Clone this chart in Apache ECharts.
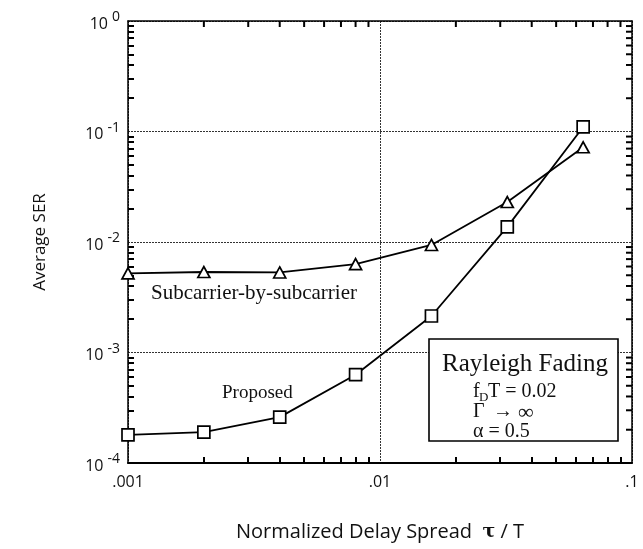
<!DOCTYPE html>
<html><head><meta charset="utf-8">
<script src="https://cdn.jsdelivr.net/npm/echarts@6/dist/echarts.min.js"></script>
<style>html,body{margin:0;padding:0;background:#fff}#c{width:643px;height:549px}</style>
</head><body><div id="c"></div>
<script>
// ---- data ----
const delaySpread   = [0.001, 0.002, 0.004, 0.008, 0.016, 0.032, 0.064];
const proposedSER   = [1.8e-4, 1.9e-4, 2.6e-4, 6.3e-4, 2.14e-3, 1.37e-2, 0.11];
const subcarrierSER = [5.2e-3, 5.35e-3, 5.3e-3, 6.3e-3, 9.4e-3, 2.3e-2, 0.072];
const xTickLabels = {'-3': '.001', '-2': '.01', '-1': '.1'};
const yTickExponents = {'0': '0', '-1': '-1', '-2': '-2', '-3': '-3', '-4': '-4'};
const xTitle = 'Normalized Delay Spread';
const yTitle = 'Average SER';
const seriesNames = ['Proposed', 'Subcarrier-by-subcarrier'];

const X_MIN = 0.001, X_MAX = 0.1, Y_MIN = 1e-4, Y_MAX = 1;
const SANS = 'Open Sans', SERIF = 'Liberation Serif';

// minor tick positions (2..9 x 10^k)
const xMinorTicks = [0.002, 0.003, 0.004, 0.005, 0.006, 0.007, 0.008, 0.009,
                     0.02, 0.03, 0.04, 0.05, 0.06, 0.07, 0.08, 0.09];
const yMinorTicks = [0.0002, 0.0003, 0.0004, 0.0005, 0.0006, 0.0007, 0.0008, 0.0009,
                     0.002, 0.003, 0.004, 0.005, 0.006, 0.007, 0.008, 0.009,
                     0.02, 0.03, 0.04, 0.05, 0.06, 0.07, 0.08, 0.09,
                     0.2, 0.3, 0.4, 0.5, 0.6, 0.7, 0.8, 0.9];

const chart = echarts.init(document.getElementById('c'), null, {renderer: 'canvas'});

const tickCfg = vals => ({show: true, inside: true, length: 6, customValues: vals, lineStyle: {color: '#000', width: 2}});
const gridLine = {show: true, lineStyle: {color: '#333', type: [2, 1], width: 1}};
const logX = extra => Object.assign({type: 'log', min: X_MIN, max: X_MAX}, extra);
const logY = extra => Object.assign({type: 'log', min: Y_MIN, max: Y_MAX}, extra);

const option = {
  animation: false,
  grid: {left: 128, right: 11, top: 21, bottom: 86},
  xAxis: [
    logX({
      position: 'bottom',
      axisLine: {show: true, lineStyle: {color: '#000', width: 2}},
      axisTick: tickCfg(xMinorTicks),
      splitLine: {show: false},
      axisLabel: {
        margin: 11, color: '#111', fontFamily: SANS, fontSize: 16,
        formatter: v => xTickLabels[String(Math.round(Math.log10(v)))] || ''
      },
      name: '{n|' + xTitle + '  }{t|τ}{n| / T}',
      nameLocation: 'middle', nameGap: 59,
      nameTextStyle: {
        rich: {
          n: {fontFamily: SANS, fontSize: 20, color: '#111'},
          t: {fontFamily: 'DejaVu Serif', fontSize: 19, fontWeight: 'bold', color: '#111'}
        }
      }
    }),
    logX({
      position: 'top',
      axisLine: {show: true, lineStyle: {color: '#000', width: 1.5}},
      axisTick: {show: false},
      splitLine: {show: false}, axisLabel: {show: false}
    }),
    logX({
      position: 'bottom',
      axisLine: {show: false}, axisTick: {show: false}, axisLabel: {show: false},
      splitLine: gridLine
    })
  ],
  yAxis: [
    logY({
      position: 'left',
      axisLine: {show: true, lineStyle: {color: '#000', width: 1.5}},
      axisTick: tickCfg(yMinorTicks),
      splitLine: {show: false},
      axisLabel: {
        margin: 8, color: '#111',
        formatter: v => {
          const e = String(Math.round(Math.log10(v)));
          return '{b|10}{s|' + yTickExponents[e] + '}';
        },
        rich: {
          b: {fontFamily: SANS, fontSize: 16, color: '#111', padding: [6, 0, 0, 0]},
          s: {fontFamily: SANS, fontSize: 14, color: '#111', padding: [0, 0, 7, 4]}
        }
      },
      name: yTitle, nameLocation: 'middle', nameGap: 79,
      nameTextStyle: {fontFamily: SANS, fontSize: 17, color: '#111'}
    }),
    logY({
      position: 'right',
      axisLine: {show: true, lineStyle: {color: '#000', width: 1.5}},
      axisTick: {show: false},
      splitLine: {show: false}, axisLabel: {show: false}
    }),
    logY({
      position: 'left',
      axisLine: {show: false}, axisTick: {show: false}, axisLabel: {show: false},
      splitLine: gridLine
    })
  ],
  series: [
    {
      name: seriesNames[0], type: 'line', xAxisIndex: 0, yAxisIndex: 0,
      data: delaySpread.map((x, i) => [x, proposedSER[i]]),
      symbol: 'rect', symbolSize: 12, showAllSymbol: true,
      lineStyle: {color: '#000', width: 1.8},
      itemStyle: {color: '#fff', borderColor: '#000', borderWidth: 1.7},
      z: 5
    },
    {
      name: seriesNames[1], type: 'line', xAxisIndex: 0, yAxisIndex: 0,
      data: delaySpread.map((x, i) => [x, subcarrierSER[i]]),
      symbol: 'triangle', symbolSize: [12, 11], showAllSymbol: true,
      lineStyle: {color: '#000', width: 1.8},
      itemStyle: {color: '#fff', borderColor: '#000', borderWidth: 1.7},
      z: 5
    }
  ]
};
chart.setOption(option);

const annotations = [
  {type: 'text', x: 151, y: 293, z: 50, style: {text: seriesNames[1], fontFamily: SERIF, fontSize: 21, fill: '#111', verticalAlign: 'middle'}},
  {type: 'text', x: 222, y: 393, z: 50, style: {text: seriesNames[0], fontFamily: SERIF, fontSize: 19, fill: '#111', verticalAlign: 'middle'}},
  {type: 'rect', z: 50, shape: {x: 429, y: 339, width: 189, height: 102}, style: {fill: '#fff', stroke: '#000', lineWidth: 1.6}},
  {type: 'text', x: 525, y: 364, z: 51, style: {text: 'Rayleigh Fading', fontFamily: SERIF, fontSize: 25, fill: '#111', align: 'center', verticalAlign: 'middle'}},
  {type: 'text', x: 473, y: 392, z: 51, style: {text: 'f', fontFamily: SERIF, fontSize: 20, fill: '#111', verticalAlign: 'middle'}},
  {type: 'text', x: 479, y: 398, z: 51, style: {text: 'D', fontFamily: SERIF, fontSize: 13, fill: '#111', verticalAlign: 'middle'}},
  {type: 'text', x: 488, y: 392, z: 51, style: {text: 'T = 0.02', fontFamily: SERIF, fontSize: 20, fill: '#111', verticalAlign: 'middle'}},
  {type: 'text', x: 473, y: 412, z: 51, style: {text: 'Γ', fontFamily: SERIF, fontSize: 20, fill: '#111', verticalAlign: 'middle'}},
  {type: 'text', x: 493, y: 412, z: 51, style: {text: '→', fontFamily: SERIF, fontSize: 20, fill: '#111', verticalAlign: 'middle'}},
  {type: 'text', x: 518, y: 413, z: 51, style: {text: '∞', fontFamily: SERIF, fontSize: 22, fill: '#111', verticalAlign: 'middle'}},
  {type: 'text', x: 473, y: 432, z: 51, style: {text: 'α = 0.5', fontFamily: SERIF, fontSize: 20, fill: '#111', verticalAlign: 'middle'}}
];

// top and right minor ticks placed through the chart's own log scales
const TL = 6;
const ticks = [];
xMinorTicks.forEach(v => {
  const t = chart.convertToPixel({xAxisIndex: 0, yAxisIndex: 0}, [v, Y_MAX]);
  ticks.push({type: 'line', z: 60, shape: {x1: t[0], y1: t[1], x2: t[0], y2: t[1] + TL}, style: {stroke: '#000', lineWidth: 2}});
});
yMinorTicks.forEach(v => {
  const r = chart.convertToPixel({xAxisIndex: 0, yAxisIndex: 0}, [X_MAX, v]);
  ticks.push({type: 'line', z: 60, shape: {x1: r[0], y1: r[1], x2: r[0] - TL, y2: r[1]}, style: {stroke: '#000', lineWidth: 2}});
});
chart.setOption({graphic: annotations.concat(ticks)});
</script>
</body></html>
